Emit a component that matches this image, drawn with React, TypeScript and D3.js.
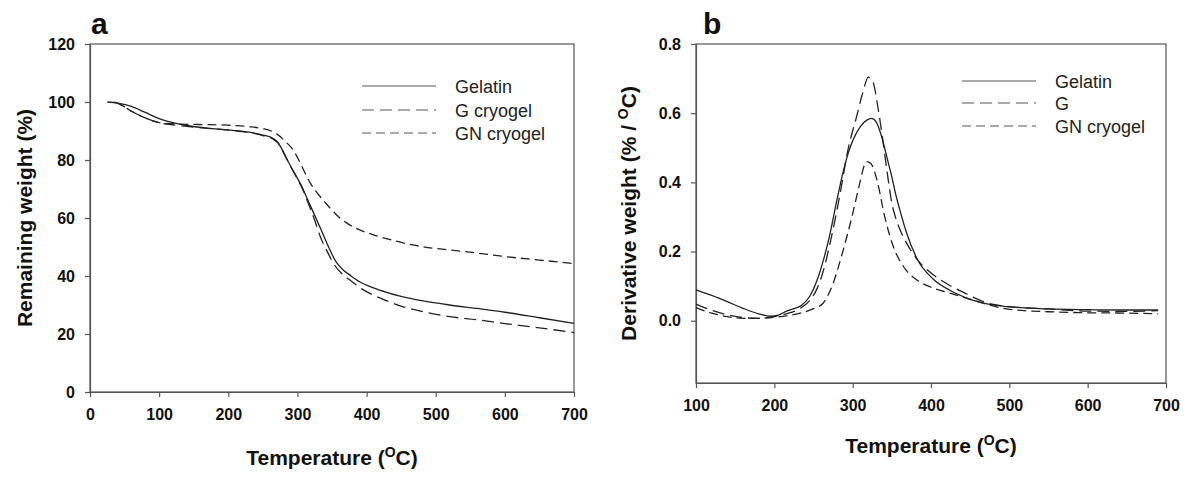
import React, { useEffect, useRef } from "react";
import * as d3 from "d3";

// TGA (a) and DTG (b) curves of gelatin, G cryogel and GN cryogel.

// ---- panel a: remaining weight (%) ----
const gelatinTempA = [25, 40, 60, 80, 100, 120, 140, 170, 200, 230, 250, 265, 272, 277, 287, 295, 305, 315, 325, 335, 345, 355, 365, 376, 390, 410, 430, 450, 480, 520, 560, 600, 650, 700];
const gelatinWeightA = [100, 99.6, 98.5, 96.4, 94.3, 92.9, 91.9, 91.0, 90.4, 89.6, 88.6, 87.4, 86.0, 84.0, 79.3, 75.8, 71.5, 66.2, 60.9, 55.5, 50.0, 45.2, 42.3, 40.3, 38.0, 35.9, 34.3, 33.0, 31.5, 30.0, 28.8, 27.5, 25.6, 23.7];

const gCryoTempA = [35, 45, 60, 80, 100, 120, 140, 170, 200, 230, 250, 265, 272, 277, 287, 295, 305, 315, 325, 333, 343, 352, 365, 376, 390, 410, 430, 450, 480, 520, 560, 600, 650, 700];
const gCryoWeightA = [100, 99, 96.8, 94.5, 92.9, 92.1, 91.6, 90.9, 90.3, 89.5, 88.4, 87.2, 85.8, 83.8, 79.2, 75.6, 71.2, 65.5, 59.2, 53.6, 48.5, 44.4, 40.6, 38.6, 36.0, 33.4, 31.4, 29.6, 27.8, 26.0, 24.9, 23.6, 22.1, 20.5];

const gnCryoTempA = [35, 45, 60, 80, 100, 120, 140, 170, 200, 230, 250, 262, 270, 282, 294, 303, 311, 318, 326, 337, 350, 362, 375, 390, 410, 430, 467, 500, 520, 560, 600, 650, 700];
const gnCryoWeightA = [100, 99, 96.8, 94.5, 92.9, 92.5, 92.3, 92.2, 92.0, 91.5, 90.8, 90.0, 89.0, 86.5, 83.4, 79.5, 75.5, 72.3, 69.4, 66.2, 62.7, 59.9, 57.7, 55.9, 54.2, 52.8, 50.7, 49.5, 49.0, 47.9, 46.7, 45.5, 44.3];

const xTicksA = [0, 100, 200, 300, 400, 500, 600, 700];
const yTicksA = [0, 20, 40, 60, 80, 100, 120];

// ---- panel b: derivative weight (%/°C) ----
const gelatinTempB = [100, 120, 140, 160, 180, 195, 205, 215, 225, 235, 245, 255, 262, 270, 280, 290, 300, 310, 318, 324, 330, 337, 344, 350, 355, 360, 369, 382, 403, 424, 450, 475, 500, 550, 600, 650, 690];
const gelatinDerivB = [0.089, 0.073, 0.055, 0.036, 0.02, 0.013, 0.016, 0.027, 0.035, 0.045, 0.07, 0.12, 0.17, 0.24, 0.35, 0.45, 0.52, 0.562, 0.58, 0.585, 0.575, 0.532, 0.47, 0.416, 0.365, 0.322, 0.253, 0.18, 0.12, 0.088, 0.062, 0.047, 0.04, 0.034, 0.032, 0.031, 0.031];

const gTempB = [100, 120, 140, 160, 180, 200, 215, 230, 245, 255, 262, 273, 284, 294, 305, 313, 320, 326, 332, 338, 344, 350, 356, 362, 368, 382, 403, 424, 445, 465, 480, 500, 550, 600, 650, 690];
const gDerivB = [0.048, 0.03, 0.017, 0.009, 0.007, 0.012, 0.02, 0.032, 0.058, 0.095, 0.14, 0.243, 0.368, 0.494, 0.59, 0.66, 0.704, 0.69, 0.62, 0.53, 0.43, 0.34, 0.29, 0.255, 0.228, 0.178, 0.133, 0.102, 0.078, 0.057, 0.047, 0.041, 0.034, 0.028, 0.027, 0.029];

const gnTempB = [100, 120, 140, 160, 180, 200, 220, 235, 250, 262, 275, 288, 299, 309, 315, 318, 323, 331, 341, 352, 365, 382, 403, 424, 450, 475, 500, 550, 600, 650, 690];
const gnDerivB = [0.038, 0.022, 0.012, 0.007, 0.007, 0.01, 0.016, 0.023, 0.035, 0.05, 0.108, 0.205, 0.3, 0.397, 0.45, 0.46, 0.455, 0.407, 0.3, 0.214, 0.156, 0.118, 0.094, 0.08, 0.062, 0.045, 0.033, 0.026, 0.023, 0.022, 0.02];

const xTicksB = [100, 200, 300, 400, 500, 600, 700];
const yTicksB = [0, 0.2, 0.4, 0.6, 0.8];

const legendA = ["Gelatin", "G cryogel", "GN cryogel"];
const legendB = ["Gelatin", "G", "GN cryogel"];
const dashes = [null, "12,6", "9,5"];

const FONT = "'Liberation Sans', Arial, sans-serif";

type Panel = {
  left: number; right: number; top: number; bottom: number;
  xDomain: [number, number]; yDomain: [number, number];
  xTicks: number[]; yTicks: number[]; yFmt: (d: number) => string;
  series: { t: number[]; v: number[] }[];
  legend: string[]; legX: number; legY: number[];
  letter: string; letterX: number;
  yTitle: string; yTitleX: number; xTitleY: number;
};

export default function App() {
  const ref = useRef<SVGSVGElement>(null);

  useEffect(() => {
    const svg = d3.select(ref.current);
    svg.selectAll("*").remove();

    const panels: Panel[] = [
      {
        left: 90, right: 574, top: 44, bottom: 392,
        xDomain: [0, 700], yDomain: [0, 120],
        xTicks: xTicksA, yTicks: yTicksA, yFmt: (d) => String(d),
        series: [
          { t: gelatinTempA, v: gelatinWeightA },
          { t: gCryoTempA, v: gCryoWeightA },
          { t: gnCryoTempA, v: gnCryoWeightA },
        ],
        legend: legendA, legX: 362, legY: [86, 110, 133],
        letter: "a", letterX: 91,
        yTitle: "Remaining weight (%)", yTitleX: 25, xTitleY: 465,
      },
      {
        left: 696, right: 1166, top: 44, bottom: 383,
        xDomain: [100, 700], yDomain: [-0.18, 0.8],
        xTicks: xTicksB, yTicks: yTicksB, yFmt: d3.format(".1f"),
        series: [
          { t: gelatinTempB, v: gelatinDerivB },
          { t: gTempB, v: gDerivB },
          { t: gnTempB, v: gnDerivB },
        ],
        legend: legendB, legX: 962, legY: [81, 103, 126],
        letter: "b", letterX: 703,
        yTitle: "Derivative weight (% / ", yTitleX: 629, xTitleY: 453,
      },
    ];

    panels.forEach((p) => {
      const x = d3.scaleLinear().domain(p.xDomain).range([p.left, p.right]);
      const y = d3.scaleLinear().domain(p.yDomain).range([p.bottom, p.top]);
      const g = svg.append("g");

      // frame
      g.append("rect")
        .attr("x", p.left).attr("y", p.top)
        .attr("width", p.right - p.left).attr("height", p.bottom - p.top)
        .attr("fill", "none").attr("stroke", "#555").attr("stroke-width", 1.2);

      const xAxis = g.append("g")
        .attr("transform", `translate(0,${p.bottom})`)
        .call(d3.axisBottom(x).tickValues(p.xTicks).tickSize(5).tickSizeOuter(0).tickPadding(12));
      const yAxis = g.append("g")
        .attr("transform", `translate(${p.left},0)`)
        .call(d3.axisLeft(y).tickValues(p.yTicks).tickFormat(p.yFmt as any).tickSize(5).tickSizeOuter(0).tickPadding(10));
      [xAxis, yAxis].forEach((a) => {
        a.select(".domain").attr("stroke", "#555").attr("stroke-width", 1.2);
        a.selectAll(".tick line").attr("stroke", "#555").attr("stroke-width", 1.2);
        a.selectAll(".tick text")
          .attr("fill", "#111").attr("font-family", FONT)
          .attr("font-size", 16).attr("font-weight", "bold");
      });

      const line = d3.line<[number, number]>()
        .x((d) => x(d[0])).y((d) => y(d[1]))
        .curve(d3.curveMonotoneX);

      p.series.forEach((s, i) => {
        const pts = s.t.map((t, k) => [t, s.v[k]] as [number, number]);
        g.append("path")
          .attr("d", line(pts))
          .attr("fill", "none")
          .attr("stroke", "#222")
          .attr("stroke-width", 1.3)
          .attr("stroke-dasharray", dashes[i]);
      });

      // legend
      p.legend.forEach((name, i) => {
        const ly = p.legY[i];
        g.append("line")
          .attr("x1", p.legX).attr("x2", p.legX + 74)
          .attr("y1", ly).attr("y2", ly)
          .attr("stroke", "#555").attr("stroke-width", 1.2)
          .attr("stroke-dasharray", dashes[i]);
        g.append("text")
          .attr("x", p.legX + 93).attr("y", ly + 6.5)
          .attr("font-family", FONT).attr("font-size", 18).attr("fill", "#222")
          .text(name);
      });

      // panel letter
      g.append("text")
        .attr("x", p.letterX).attr("y", 34)
        .attr("font-family", FONT)
        .attr("font-size", 30).attr("font-weight", "bold").attr("fill", "#111")
        .text(p.letter);

      // x title
      const xt = g.append("text")
        .attr("x", (p.left + p.right) / 2).attr("y", p.xTitleY)
        .attr("text-anchor", "middle")
        .attr("font-family", FONT).attr("font-size", 21).attr("font-weight", "bold").attr("fill", "#111");
      xt.append("tspan").text("Temperature (");
      xt.append("tspan").attr("dy", -8).attr("font-size", 14).text("O");
      xt.append("tspan").attr("dy", 8).text("C)");

      // y title
      const cy = (p.top + p.bottom) / 2;
      const yt = g.append("text")
        .attr("transform", `translate(${p.yTitleX},${cy}) rotate(-90)`)
        .attr("text-anchor", "middle").attr("dy", "0.35em")
        .attr("font-family", FONT).attr("font-size", 21).attr("font-weight", "bold").attr("fill", "#111");
      if (p.letter === "a") {
        yt.text(p.yTitle);
      } else {
        yt.append("tspan").text(p.yTitle);
        yt.append("tspan").attr("dy", -8).attr("font-size", 14).text("O");
        yt.append("tspan").attr("dy", 8).text("C)");
      }
    });
  }, []);

  return (
    <svg
      ref={ref}
      width={1195}
      height={478}
      style={{ position: "absolute", left: 0, top: 0, background: "#fff" }}
    />
  );
}
